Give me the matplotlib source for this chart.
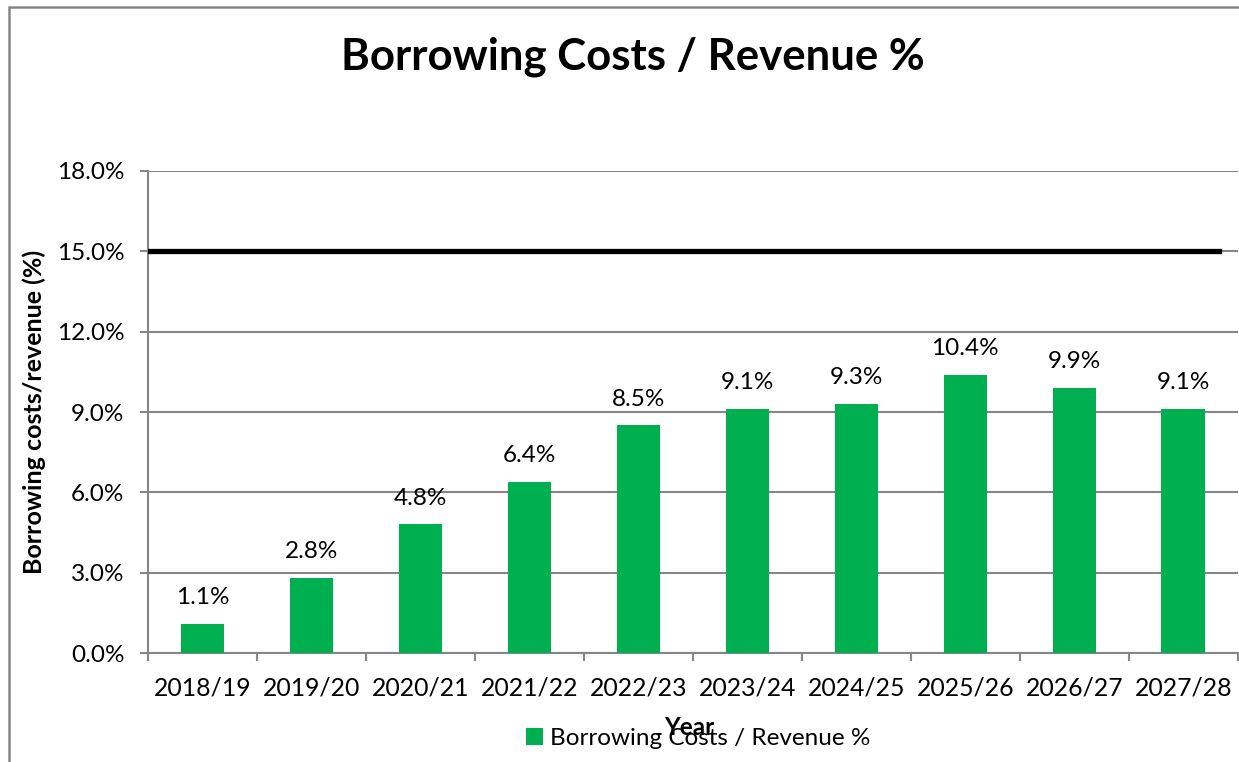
import matplotlib.pyplot as plt
from matplotlib.patches import Rectangle
from matplotlib.ticker import FuncFormatter, MultipleLocator

plt.rcParams['font.family'] = ['Lato', 'DejaVu Sans']

years = ['2018/19', '2019/20', '2020/21', '2021/22', '2022/23',
         '2023/24', '2024/25', '2025/26', '2026/27', '2027/28']
ratio = [0.011, 0.028, 0.048, 0.064, 0.085, 0.091, 0.093, 0.104, 0.099, 0.091]
limit = 0.15

green = '#00B050'
grey = '#868686'

fig = plt.figure(figsize=(12.39, 7.62), dpi=100)
ax = fig.add_axes([0.1195, 0.143, 0.8795, 0.6326])

x = list(range(len(years)))
bars = ax.bar(x, ratio, width=0.4, color=green, zorder=3,
              label='Borrowing Costs / Revenue %')
for xi, v in zip(x, ratio):
    ax.annotate(f'{v * 100:.1f}%', (xi, v), xytext=(0, 19),
                textcoords='offset points', ha='center', va='center',
                fontsize=17.5)

# 15% ceiling line
ax.axhline(limit, xmin=0, xmax=0.983, color='black', lw=3.8, zorder=4)

ax.set_xlim(-0.5, len(years) - 0.5)
ax.set_ylim(0, 0.18)
ax.yaxis.set_major_locator(MultipleLocator(0.03))
ax.yaxis.set_major_formatter(FuncFormatter(lambda v, p: f'{v * 100:.1f}%'))
ax.set_xticks(x)
ax.set_xticklabels(years)
ax.set_xticks([i - 0.5 for i in range(len(years) + 1)], minor=True)
ax.tick_params(axis='x', which='major', length=0, pad=17, labelsize=17.8)
ax.tick_params(axis='x', which='minor', length=6, width=1.5, color=grey)
ax.tick_params(axis='y', length=6, width=1.5, color=grey, labelsize=17.5,
               pad=11)

ax.grid(axis='y', color=grey, lw=1.5, zorder=0)
for side in ['top', 'right']:
    ax.spines[side].set_visible(False)
for side in ['left', 'bottom']:
    ax.spines[side].set_color(grey)
    ax.spines[side].set_linewidth(1.5)

ax.set_ylabel('Borrowing costs/revenue (%)', fontsize=18, fontweight='bold')
ax.yaxis.set_label_coords(-0.094, 0.5)
ax.set_xlabel('Year', fontsize=17.5, fontweight='bold')
ax.xaxis.set_label_coords(0.497, -0.13)

ax.legend(loc='center', bbox_to_anchor=(0.505, -0.178), frameon=False,
          fontsize=17.5, handlelength=0.7, handleheight=0.7, handletextpad=0.3)

fig.suptitle('Borrowing Costs / Revenue %', fontsize=31.5, fontweight='bold',
             x=0.511, y=0.925, va='center')

# outer chart frame
fig.patches.append(Rectangle((9 / 1239, -0.1), 1.2, 1.1 - 7 / 762,
                             transform=fig.transFigure, fill=False,
                             edgecolor=grey, lw=1.8))

fig.savefig('out.png', dpi=100)
